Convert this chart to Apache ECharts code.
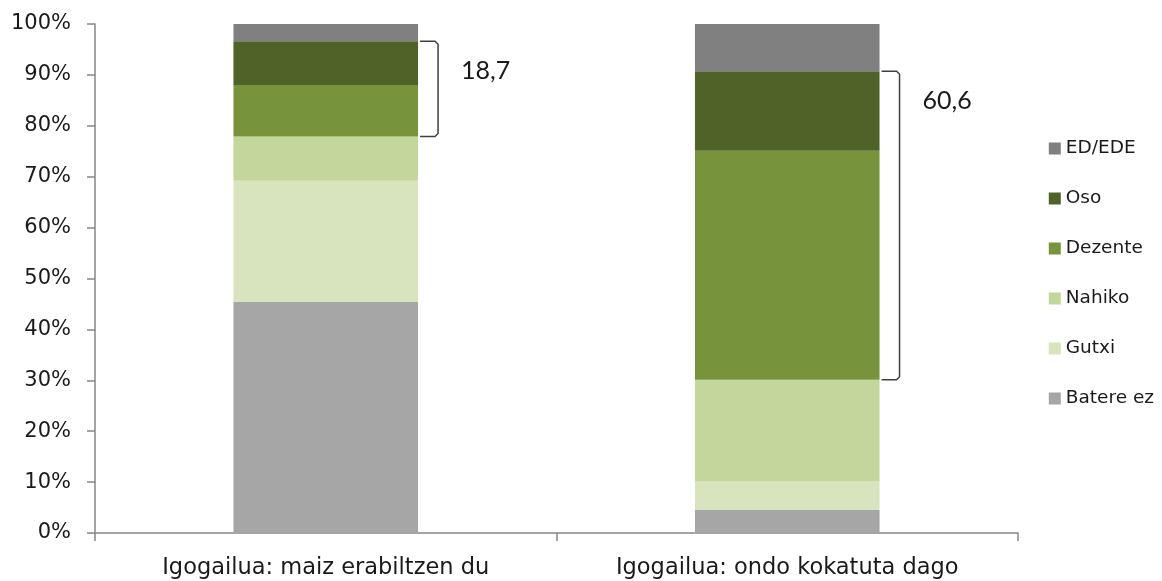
<!DOCTYPE html>
<html>
<head>
<meta charset="utf-8">
<script src="https://cdn.jsdelivr.net/npm/echarts@6/dist/echarts.min.js"></script>
<style>
  html, body { margin: 0; padding: 0; background: #fff; }
  #chart { width: 1162px; height: 581px; }
</style>
</head>
<body>
<div id="chart"></div>
<script>
// categories and stacked shares (%), bottom to top
const categories = ['Igogailua: maiz erabiltzen du', 'Igogailua: ondo kokatuta dago']
const bateraEz = [45.4, 4.5]
const gutxi = [23.8, 5.6]
const nahiko = [8.7, 20.0]
const dezente = [10.1, 45.0]
const oso = [8.6, 15.6]
const edEde = [3.4, 9.3]
const yTicks = [0, 10, 20, 30, 40, 50, 60, 70, 80, 90, 100]

const font = 'Lato, "Open Sans", sans-serif'
const wideFont = '"DejaVu Sans", Verdana, sans-serif'

const stackDefs = [
  { name: 'Batere ez', data: bateraEz, color: '#A6A6A6' },
  { name: 'Gutxi', data: gutxi, color: '#D7E4BD' },
  { name: 'Nahiko', data: nahiko, color: '#C3D69B' },
  { name: 'Dezente', data: dezente, color: '#77933C' },
  { name: 'Oso', data: oso, color: '#4F6228' },
  { name: 'ED/EDE', data: edEde, color: '#808080' }
]

const barSeries = stackDefs.map(d => ({
  name: d.name,
  type: 'bar',
  stack: 'total',
  barWidth: '40%',
  itemStyle: { color: d.color },
  data: d.data
}))

// bracket covering Dezente + Oso
const bracketData = categories.map((c, i) => {
  const low = bateraEz[i] + gutxi[i] + nahiko[i]
  const high = low + dezente[i] + oso[i]
  return [i, low, high, (dezente[i] + oso[i]).toFixed(1).replace('.', ',')]
})

const bracketSeries = {
  type: 'custom',
  name: 'bracket',
  silent: true,
  z: 5,
  renderItem (params, api) {
    const i = api.value(0)
    const lo = api.coord([i, api.value(1)])
    const hi = api.coord([i, api.value(2)])
    const half = api.size([1, 0])[0] * 0.2
    const x0 = lo[0] + half + 2
    const x1 = x0 + 18
    return {
      type: 'group',
      children: [
        {
          type: 'polyline',
          shape: { points: [[x0, hi[1]], [x1 - 3, hi[1]], [x1, hi[1] + 3], [x1, lo[1] - 3], [x1 - 3, lo[1]], [x0, lo[1]]] },
          style: { stroke: '#404040', lineWidth: 1.5, fill: null }
        },
        {
          type: 'text',
          x: x1 + 23,
          y: hi[1] + 30,
          style: {
            text: bracketData[params.dataIndex][3],
            font: '25px ' + font,
            fill: '#1a1a1a',
            align: 'left',
            verticalAlign: 'middle'
          }
        }
      ]
    }
  },
  data: bracketData
}

const chart = echarts.init(document.getElementById('chart'))
chart.setOption({
  animation: false,
  backgroundColor: '#fff',
  grid: { left: 95, right: 144, top: 24, bottom: 48 },
  legend: {
    orient: 'vertical',
    right: 3,
    top: 134,
    itemWidth: 12,
    itemHeight: 12,
    itemGap: 31,
    icon: 'rect',
    data: stackDefs.map(d => d.name).reverse(),
    textStyle: { fontFamily: wideFont, fontSize: 18.5, color: '#1a1a1a' }
  },
  xAxis: {
    type: 'category',
    data: categories,
    axisLine: { lineStyle: { color: '#868686', width: 1.5 } },
    axisTick: { show: true, length: 8, lineStyle: { color: '#868686', width: 1.5 } },
    axisLabel: { fontFamily: wideFont, fontSize: 22.5, color: '#1a1a1a', margin: 24 }
  },
  yAxis: {
    type: 'value',
    min: yTicks[0],
    max: yTicks[yTicks.length - 1],
    interval: 10,
    splitLine: { show: false },
    axisLine: { show: true, lineStyle: { color: '#868686', width: 1.5 } },
    axisTick: { show: true, length: 8, lineStyle: { color: '#868686', width: 1.5 } },
    axisLabel: { formatter: '{value}%', fontFamily: wideFont, fontSize: 21, color: '#1a1a1a', margin: 24 }
  },
  series: barSeries.concat([bracketSeries])
})
</script>
</body>
</html>
